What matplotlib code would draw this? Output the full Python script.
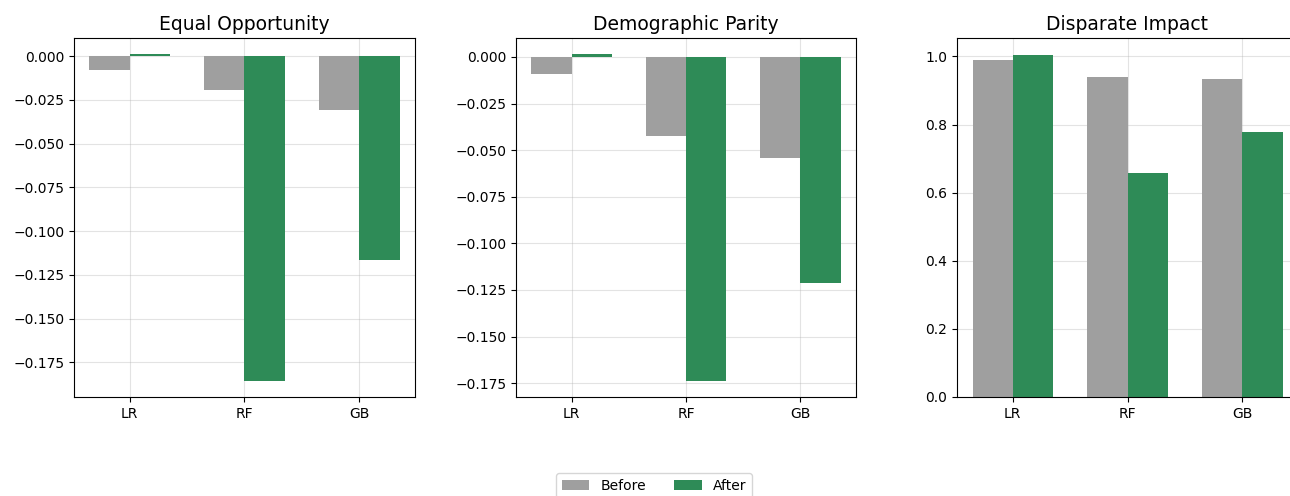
import numpy as np
import matplotlib
matplotlib.use("Agg")
import matplotlib.pyplot as plt

# fairness metrics per model, before and after mitigation
models = ["LR", "RF", "GB"]
metric_names = ["Equal Opportunity", "Demographic Parity", "Disparate Impact"]

eo_before = [-0.0082, -0.0195, -0.0309]
eo_after = [0.0010, -0.1855, -0.1164]

dp_before = [-0.0090, -0.0422, -0.0542]
dp_after = [0.0014, -0.1737, -0.1214]

di_before = [0.990, 0.941, 0.933]
di_after = [1.004, 0.659, 0.777]

before_color = "#9f9f9f"
after_color = "#2e8b57"
bar_width = 0.35

fig = plt.figure(figsize=(12.9, 4.96), dpi=100)

# axes placed by hand, last panel runs off the right edge
axes_boxes = [
    [74 / 1290, 99 / 496, 341 / 1290, 359 / 496],
    [516 / 1290, 99 / 496, 340 / 1290, 359 / 496],
    [957 / 1290, 99 / 496, 341 / 1290, 359 / 496],
]

series = [(eo_before, eo_after), (dp_before, dp_after), (di_before, di_after)]
x = np.arange(len(models))

for box, title, (before, after) in zip(axes_boxes, metric_names, series):
    ax = fig.add_axes(box)
    b1 = ax.bar(x - bar_width, before, bar_width, align="edge",
                color=before_color, label="Before")
    b2 = ax.bar(x, after, bar_width, align="edge",
                color=after_color, label="After")
    ax.set_xticks(x)
    ax.set_xticklabels(models)
    ax.set_title(title, fontsize=13.5)
    ax.grid(True, alpha=0.35)
    ax.set_axisbelow(True)
    ax.tick_params(labelsize=10)

fig.legend([b1, b2], ["Before", "After"], loc="upper center", ncol=2,
           bbox_to_anchor=(654 / 1290, 30 / 496), fontsize=10)

fig.savefig("out.png", dpi=100)
